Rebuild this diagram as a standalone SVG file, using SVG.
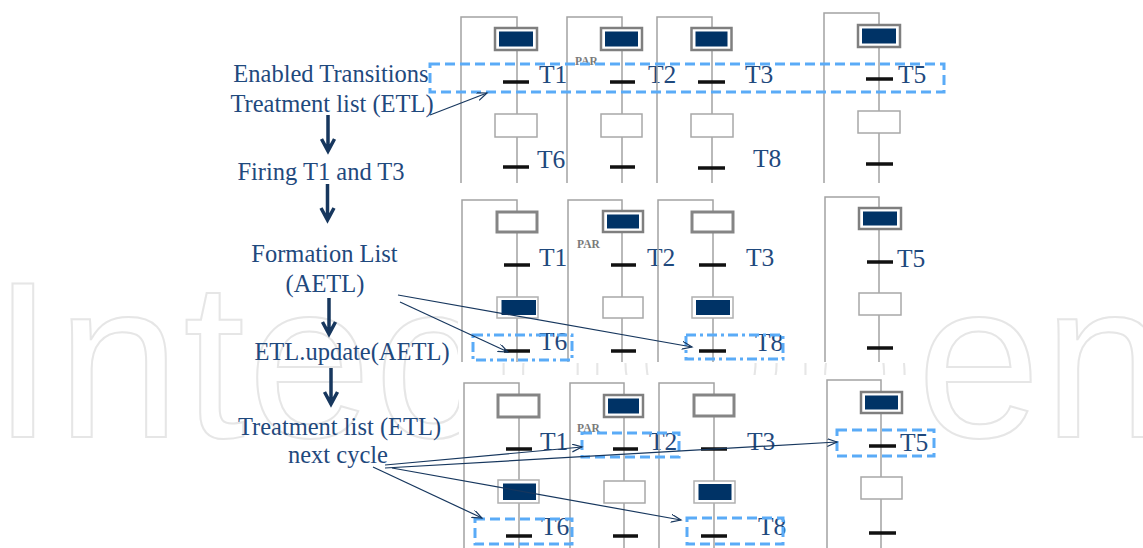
<svg xmlns="http://www.w3.org/2000/svg" width="1143" height="548" viewBox="0 0 1143 548">
<defs>
<style>
.lbl{font-family:"Liberation Serif","Times New Roman",serif;font-size:24.5px;fill:#1F497D;text-anchor:middle}
.t{font-family:"Liberation Serif","Times New Roman",serif;font-size:25.5px;fill:#1F497D}
.par{font-family:"Liberation Serif","Times New Roman",serif;font-size:11.5px;font-weight:bold;fill:#7a7a7a}
.wm{font-family:"Liberation Sans",Arial,sans-serif;font-size:222px;letter-spacing:3px;fill:none;stroke:#e6e6e6;stroke-width:2}
.wire{fill:none;stroke:#a3a3a3;stroke-width:1.5}
.bar{stroke:#111;stroke-width:3.5}
.sA{fill:#fff;stroke:#7f7f7f;stroke-width:2.5}
.sAl{fill:#fff;stroke:#b0b0b0;stroke-width:1.5}
.sI{fill:#fff;stroke:#a8a8a8;stroke-width:1.5}
.sIh{fill:#fff;stroke:#858585;stroke-width:3}
.tok{fill:#003366}
.big{fill:none;stroke:#17375E;stroke-width:3.5}
.thin{fill:none;stroke:#17375E;stroke-width:1.2;marker-end:url(#open)}
.dash{fill:none;stroke:#5aabf7;stroke-width:3;stroke-dasharray:10 5}
.dd{fill:none;stroke:#5aabf7;stroke-width:3;stroke-dasharray:10 4 3 4}
.strip{fill:#fff}
</style>
<marker id="open" markerUnits="userSpaceOnUse" markerWidth="12" markerHeight="10" refX="10" refY="4" orient="auto">
<path d="M0,0 L10,4 L0,8" fill="none" stroke="#17375E" stroke-width="1.2"/>
</marker>
</defs>

<text class="wm" x="-8" y="437">IntechOpen</text>

<rect class="strip" x="456" y="0" width="458" height="183"/>
<rect class="strip" x="458" y="189" width="456" height="174"/>
<rect class="strip" x="459" y="375" width="455" height="173"/>

<!-- Strip 1 -->
<g id="s1c1">
<path class="wire" d="M461,183 V17 H517 V183"/>
<rect class="sA" x="495" y="28" width="42" height="22"/><rect class="tok" x="499" y="31.5" width="34" height="15"/>
<line class="bar" x1="503" y1="82" x2="529" y2="82"/>
<rect class="sI" x="495" y="114" width="42" height="23"/>
<line class="bar" x1="503" y1="167" x2="529" y2="167"/>
<text class="t" x="539" y="83">T1</text><text class="t" x="537" y="168">T6</text>
</g>
<g id="s1c2">
<path class="wire" d="M567,183 V17 H622 V183"/>
<rect class="sA" x="601" y="28" width="41" height="22"/><rect class="tok" x="605" y="31.5" width="33" height="15"/>
<line class="bar" x1="610" y1="82" x2="635" y2="82"/>
<rect class="sI" x="601" y="114" width="41" height="23"/>
<line class="bar" x1="610" y1="167" x2="635" y2="167"/>
<text class="par" x="575" y="65">PAR</text>
<text class="t" x="648" y="83">T2</text>
</g>
<g id="s1c3">
<path class="wire" d="M657,183 V17 H712 V183"/>
<rect class="sA" x="691.5" y="28" width="40" height="22"/><rect class="tok" x="695.5" y="31.5" width="32" height="15"/>
<line class="bar" x1="698" y1="82" x2="725" y2="82"/>
<rect class="sI" x="691" y="114" width="42" height="23"/>
<line class="bar" x1="698" y1="168" x2="725" y2="168"/>
<text class="t" x="745" y="83">T3</text><text class="t" x="753" y="167">T8</text>
</g>
<g id="s1c4">
<path class="wire" d="M824,183 V13 H879 V183"/>
<rect class="sA" x="858" y="25" width="42" height="22"/><rect class="tok" x="862" y="28.5" width="34" height="15"/>
<line class="bar" x1="866" y1="79" x2="893" y2="79"/>
<rect class="sI" x="858" y="111" width="42" height="22"/>
<line class="bar" x1="866" y1="164" x2="893" y2="164"/>
<text class="t" x="898" y="83">T5</text>
</g>
<rect id="etl1" class="dash" x="430" y="64" width="514" height="28"/>

<!-- Strip 2 -->
<g id="s2c1">
<path class="wire" d="M462,362 V200 H517 V362"/>
<rect class="sIh" x="497" y="212" width="40" height="20"/>
<line class="bar" x1="504" y1="265" x2="530" y2="265"/>
<rect class="sAl" x="497" y="297" width="41" height="21"/><rect class="tok" x="501.5" y="300" width="34.5" height="15"/>
<line class="bar" x1="504" y1="351" x2="530" y2="351"/>
<text class="t" x="539" y="266">T1</text><text class="t" x="539" y="350">T6</text>
</g>
<g id="s2c2">
<path class="wire" d="M568,362 V200 H622 V362"/>
<rect class="sA" x="603" y="211" width="40" height="21"/><rect class="tok" x="607" y="214.5" width="32" height="14"/>
<line class="bar" x1="611" y1="265" x2="636" y2="265"/>
<rect class="sI" x="603" y="297" width="40" height="21"/>
<line class="bar" x1="611" y1="351" x2="636" y2="351"/>
<text class="par" x="577" y="248">PAR</text>
<text class="t" x="647" y="266">T2</text>
</g>
<g id="s2c3">
<path class="wire" d="M658,362 V200 H713 V362"/>
<rect class="sIh" x="692" y="212" width="41" height="20"/>
<line class="bar" x1="699" y1="265" x2="726" y2="265"/>
<rect class="sAl" x="692" y="297" width="41" height="21"/><rect class="tok" x="696" y="300" width="34" height="15"/>
<line class="bar" x1="699" y1="351" x2="726" y2="351"/>
<text class="t" x="746" y="266">T3</text><text class="t" x="755" y="351">T8</text>
</g>
<g id="s2c4">
<path class="wire" d="M825,362 V197 H879 V362"/>
<rect class="sA" x="859" y="208" width="42" height="21"/><rect class="tok" x="863" y="211.5" width="34" height="14"/>
<line class="bar" x1="867" y1="262" x2="893" y2="262"/>
<rect class="sI" x="859" y="293" width="42" height="22"/>
<line class="bar" x1="867" y1="348" x2="893" y2="348"/>
<text class="t" x="897" y="267">T5</text>
</g>
<rect id="aetl6" class="dd" x="473" y="335" width="99" height="25"/>
<rect id="aetl8" class="dd" x="686" y="335" width="97" height="24"/>

<!-- Strip 3 -->
<g id="s3c1">
<path class="wire" d="M464,548 V383 H519 V548"/>
<rect class="sIh" x="498" y="395" width="41" height="22"/>
<line class="bar" x1="506" y1="449" x2="532" y2="449"/>
<rect class="sAl" x="498" y="480" width="41" height="23"/><rect class="tok" x="503" y="483.5" width="33" height="16.5"/>
<line class="bar" x1="506" y1="536" x2="532" y2="536"/>
<text class="t" x="540" y="450">T1</text><text class="t" x="541" y="535">T6</text>
</g>
<g id="s3c2">
<path class="wire" d="M570,548 V383 H624 V548"/>
<rect class="sA" x="604" y="395" width="39" height="22"/><rect class="tok" x="608" y="398.5" width="31" height="15"/>
<line class="bar" x1="613" y1="449" x2="638" y2="449"/>
<rect class="sI" x="604" y="481" width="41" height="22"/>
<line class="bar" x1="613" y1="536" x2="638" y2="536"/>
<text class="par" x="577" y="432">PAR</text>
<text class="t" x="649" y="450">T2</text>
</g>
<g id="s3c3">
<path class="wire" d="M659,548 V383 H714 V548"/>
<rect class="sIh" x="694" y="395" width="40" height="21"/>
<line class="bar" x1="701" y1="449" x2="727" y2="449"/>
<rect class="sAl" x="694" y="481" width="41" height="22"/><rect class="tok" x="698.5" y="484" width="33" height="16"/>
<line class="bar" x1="701" y1="536" x2="727" y2="536"/>
<text class="t" x="747" y="450">T3</text><text class="t" x="758" y="535">T8</text>
</g>
<g id="s3c4">
<path class="wire" d="M827,548 V380 H881 V548"/>
<rect class="sA" x="861" y="392" width="41" height="21"/><rect class="tok" x="865" y="395.5" width="33" height="14"/>
<line class="bar" x1="869" y1="446" x2="896" y2="446"/>
<rect class="sI" x="861" y="477" width="41" height="22"/>
<line class="bar" x1="869" y1="533" x2="896" y2="533"/>
<text class="t" x="900" y="451">T5</text>
</g>
<rect id="n6" class="dash" x="475" y="519" width="97" height="25"/>
<rect id="n2" class="dash" x="582" y="433" width="97" height="24"/>
<rect id="n8" class="dash" x="687" y="518" width="96" height="26"/>
<rect id="n5" class="dash" x="837" y="430" width="97" height="26"/>

<!-- Left flow labels -->
<g id="lbl-etl"><text class="lbl" x="331" y="82">Enabled Transitions</text><text class="lbl" x="332" y="111.5">Treatment list (ETL)</text></g>
<g id="lbl-fire"><text class="lbl" x="321" y="180">Firing T1 and T3</text></g>
<g id="lbl-aetl"><text class="lbl" x="324.5" y="261.5">Formation List</text><text class="lbl" x="325" y="291.5">(AETL)</text></g>
<g id="lbl-upd"><text class="lbl" x="352" y="360">ETL.update(AETL)</text></g>
<g id="lbl-next"><text class="lbl" x="339.5" y="435">Treatment list (ETL)</text><text class="lbl" x="338" y="463">next cycle</text></g>

<!-- Connectors -->
<g id="connectors">
<path class="big" d="M328,115 V150 M321.5,139 L328,151 L334.5,139"/>
<path class="big" d="M327.5,184 V219 M321,208 L327.5,220 L334,208"/>
<path class="big" d="M329,298 V333 M322.5,322 L329,334 L335.5,322"/>
<path class="big" d="M331,368 V403 M324.5,392 L331,404 L337.5,392"/>
<line class="thin" x1="430" y1="115" x2="487" y2="93"/>
<line class="thin" x1="398" y1="295" x2="692" y2="347"/>
<line class="thin" x1="400" y1="302" x2="508" y2="352"/>
<line class="thin" x1="373" y1="467" x2="482" y2="518"/>
<line class="thin" x1="385" y1="465" x2="582" y2="447"/>
<line class="thin" x1="385" y1="468" x2="837" y2="442"/>
<line class="thin" x1="392" y1="468" x2="681" y2="520"/>
</g>
</svg>
